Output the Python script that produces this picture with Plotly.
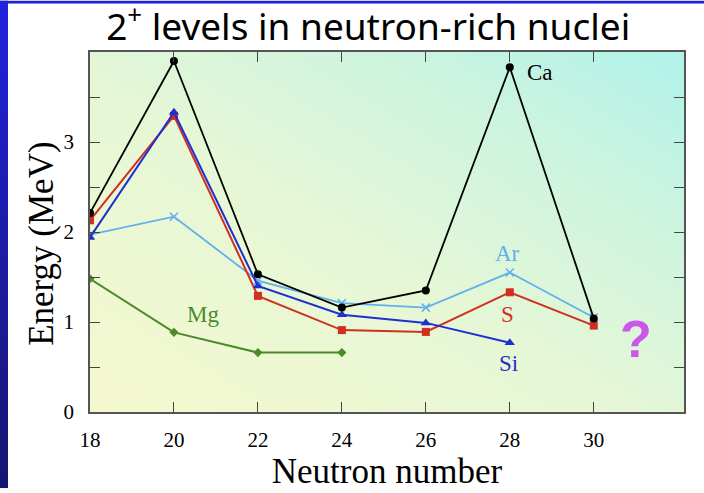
import base64
import plotly.graph_objects as go

# ---- data ----
neutrons = [18, 20, 22, 24, 26, 28, 30]
ca = [2.21, 3.90, 1.53, 1.16, 1.35, 3.83, 1.04]
s_vals = [2.13, 3.29, 1.29, 0.91, 0.89, 1.33, 0.96]
si_vals = [1.94, 3.33, 1.40, 1.08, 0.99, 0.77]
ar_vals = [1.97, 2.17, 1.46, 1.21, 1.16, 1.55, 1.05]
mg_vals = [1.48, 0.885, 0.66, 0.66]
x_ticks = [18, 20, 22, 24, 26, 28, 30]
y_ticks = [0, 1, 2, 3]

W, H = 704, 493
L, R, T, B = 90, 20, 52, 77
pw, ph = W - L - R, H - T - B

svg = f'''<svg xmlns="http://www.w3.org/2000/svg" width="{W}" height="{H}" viewBox="0 0 {W} {H}" preserveAspectRatio="none">
<defs>
<linearGradient id="blue" x1="0" y1="0" x2="0" y2="1">
<stop offset="0" stop-color="#2222dd"/><stop offset="1" stop-color="#161670"/></linearGradient>
<linearGradient id="plot" x1="0" y1="1" x2="1" y2="0">
<stop offset="0" stop-color="#f5f8cf"/><stop offset="0.45" stop-color="#e6f7d6"/>
<stop offset="0.75" stop-color="#cdf4df"/><stop offset="1" stop-color="#b0f2ea"/></linearGradient>
</defs>
<rect x="0" y="0" width="{W}" height="{H}" fill="#ffffff"/>
<rect x="0" y="0" width="8" height="{H}" fill="url(#blue)"/>
<rect x="0" y="0" width="{W}" height="3" fill="#2222dd"/>
<rect x="{L}" y="{T}" width="{pw}" height="{ph}" fill="url(#plot)"/>
</svg>'''
src = "data:image/svg+xml;base64," + base64.b64encode(svg.encode()).decode()

fig = go.Figure()

def add(xs, ys, color, symbol, size, width, name):
    fig.add_trace(go.Scatter(
        x=xs, y=ys, mode="lines+markers", name=name,
        line=dict(color=color, width=width),
        marker=dict(symbol=symbol, size=size, color=color,
                    line=dict(color=color, width=1.5 if "x" in symbol else 0)),
    ))

add(neutrons[:len(mg_vals)], mg_vals, "#4a8a2a", "diamond", 7, 2, "Mg")
add(neutrons, ar_vals, "#62b0ee", "x-thin", 8, 1.8, "Ar")
add(neutrons, s_vals, "#d0301f", "square", 8, 2, "S")
add(neutrons[:len(si_vals)], si_vals, "#1f2fd0", "triangle-up", 9, 2, "Si")
add(neutrons, ca, "#000000", "circle", 8, 1.8, "Ca")

serif = "Liberation Serif, Times New Roman, serif"
labels = [
    ("Ca", 28.72, 3.77, "#000000"),
    ("Ar", 27.95, 1.76, "#62b0ee"),
    ("S", 27.95, 1.08, "#d0301f"),
    ("Si", 27.98, 0.54, "#1f2fd0"),
    ("Mg", 20.69, 1.08, "#4a8a2a"),
]
for t, x, y, c in labels:
    fig.add_annotation(x=x, y=y, text=t, showarrow=False,
                       font=dict(family=serif, size=23, color=c))
fig.add_annotation(x=31.0, y=0.81, text="<b>?</b>", showarrow=False,
                   font=dict(family="Liberation Sans, Arial, sans-serif", size=52, color="#cc55ea"))

# y-axis title (placed slightly below axis centre as in the reference)
fig.add_annotation(x=(42 - L) / pw, y=(H - B - 246) / ph, xref="paper", yref="paper",
                   text="Energy (MeV)", textangle=-90, showarrow=False,
                   xanchor="center", yanchor="middle",
                   font=dict(family=serif, size=35, color="#000"))

fig.update_layout(
    width=W, height=H,
    margin=dict(l=L, r=R, t=T, b=B, pad=0),
    paper_bgcolor="#ffffff",
    plot_bgcolor="rgba(0,0,0,0)",
    showlegend=False,
    title=dict(text="2<sup>+</sup> levels in neutron-rich nuclei",
               x=0.523, xanchor="center", y=1 - 27 / H, yanchor="middle",
               font=dict(family="Noto Sans, sans-serif", size=37, color="#000000")),
    images=[dict(source=src, xref="paper", yref="paper",
                 x=-L / pw, y=1 + T / ph, sizex=W / pw, sizey=H / ph,
                 xanchor="left", yanchor="top", sizing="stretch", layer="below")],
    xaxis=dict(range=[18, 32.15], tickvals=x_ticks, ticktext=[str(v) for v in x_ticks],
               ticks="inside", ticklen=10, tickcolor="#444", tickwidth=1,
               showline=True, linecolor="#555", linewidth=1.5, mirror="ticks",
               showgrid=False, zeroline=False, ticklabelstandoff=8,
               tickfont=dict(family=serif, size=21, color="#000"),
               title=dict(text="Neutron number", font=dict(family=serif, size=35, color="#000"),
                          standoff=5)),
    yaxis=dict(range=[0, 4], tickvals=y_ticks, ticktext=[str(v) for v in y_ticks],
               ticks="inside", ticklen=10, tickcolor="#444", tickwidth=1,
               minor=dict(dtick=0.5, ticks="inside", ticklen=10, tickcolor="#444"),
               showline=True, linecolor="#555", linewidth=1.5, mirror="ticks",
               showgrid=False, zeroline=False, ticklabelstandoff=10,
               tickfont=dict(family=serif, size=21, color="#000")),
)

fig.write_html("out.html", config={"displayModeBar": False},
               post_script="document.body.style.margin='0';document.body.style.overflow='hidden';")
